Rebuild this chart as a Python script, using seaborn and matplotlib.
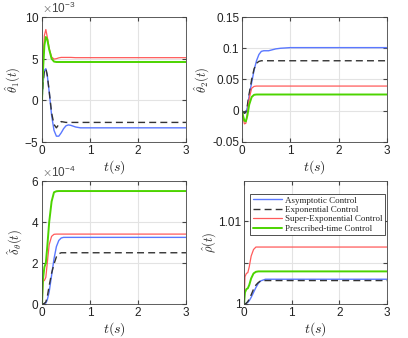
import matplotlib
matplotlib.use("Agg")
import matplotlib.pyplot as plt
import numpy as np
import pandas as pd
import seaborn as sns

# sample times (s)
t = [0, 0.02, 0.05, 0.08, 0.11, 0.15, 0.2, 0.25, 0.3, 0.35, 0.4, 0.45, 0.5, 0.55, 0.6, 0.7, 0.8, 1.0, 1.5, 3.0]

labels = ["Asymptotic Control", "Exponential Control", "Super-Exponential Control", "Prescribed-time Control"]
colors = ["#5a78ff", "#333333", "#ff5a5a", "#4cd400"]

# theta1 hat (x 1e-3)
th1_asy = [0, 2.0, 3.6, 3.8, 3.0, 1.0, -1.8, -3.6, -4.3, -4.3, -3.9, -3.4, -3.05, -2.95, -3.0, -3.2, -3.3, -3.3, -3.3, -3.3]
th1_exp = [0, 2.0, 3.6, 3.8, 3.0, 1.1, -1.5, -2.9, -3.3, -2.9, -2.55, -2.6, -2.65, -2.65, -2.65, -2.65, -2.65, -2.65, -2.65, -2.65]
th1_sup = [0, 4.5, 7.8, 8.5, 7.6, 6.2, 5.2, 4.95, 5.0, 5.1, 5.15, 5.15, 5.15, 5.15, 5.15, 5.12, 5.12, 5.12, 5.12, 5.12]
th1_pre = [0, 3.5, 6.6, 7.6, 7.3, 6.1, 5.0, 4.65, 4.6, 4.6, 4.6, 4.6, 4.6, 4.6, 4.6, 4.6, 4.6, 4.6, 4.6, 4.6]

# theta2 hat
th2_asy = [0, -0.002, -0.004, -0.003, 0.005, 0.025, 0.045, 0.065, 0.08, 0.09, 0.095, 0.096, 0.096, 0.096, 0.097, 0.099, 0.1, 0.101, 0.101, 0.101]
th2_exp = [0, -0.002, -0.004, -0.002, 0.008, 0.028, 0.05, 0.067, 0.076, 0.079, 0.08, 0.08, 0.08, 0.08, 0.08, 0.08, 0.08, 0.08, 0.08, 0.08]
th2_sup = [0, -0.01, -0.021, -0.02, -0.005, 0.02, 0.036, 0.039, 0.0395, 0.0395, 0.0395, 0.0395, 0.0395, 0.0395, 0.0395, 0.0395, 0.0395, 0.0395, 0.0395, 0.0395]
th2_pre = [0, -0.008, -0.016, -0.017, -0.008, 0.01, 0.022, 0.0255, 0.026, 0.026, 0.026, 0.026, 0.026, 0.026, 0.026, 0.026, 0.026, 0.026, 0.026, 0.026]

# delta_theta hat (x 1e-4)
dth_asy = [0, 0, 0.02, 0.05, 0.2, 0.6, 1.4, 2.2, 2.8, 3.1, 3.22, 3.25, 3.25, 3.25, 3.25, 3.25, 3.25, 3.25, 3.25, 3.25]
dth_exp = [0, 0, 0.03, 0.1, 0.35, 0.9, 1.5, 1.95, 2.3, 2.45, 2.5, 2.5, 2.5, 2.5, 2.5, 2.5, 2.5, 2.5, 2.5, 2.5]
dth_sup = [0, 1.1, 1.15, 1.3, 2.0, 2.9, 3.3, 3.4, 3.41, 3.41, 3.41, 3.41, 3.41, 3.41, 3.41, 3.41, 3.41, 3.41, 3.41, 3.41]
dth_pre = [0, 1.2, 1.8, 2.0, 2.8, 4.0, 5.0, 5.45, 5.5, 5.51, 5.51, 5.51, 5.51, 5.51, 5.51, 5.51, 5.51, 5.51, 5.51, 5.51]

# rho hat
rho_asy = [1.0, 1.0, 1.0001, 1.0002, 1.0004, 1.0008, 1.0014, 1.002, 1.0025, 1.0028, 1.0029, 1.003, 1.003, 1.003, 1.003, 1.003, 1.003, 1.003, 1.003, 1.003]
rho_exp = [1.0, 1.0, 1.0001, 1.0003, 1.0006, 1.0011, 1.0018, 1.0023, 1.0026, 1.0028, 1.00284, 1.00284, 1.00284, 1.00284, 1.00284, 1.00284, 1.00284, 1.00284, 1.00284, 1.00284]
rho_sup = [1.0, 1.0033, 1.0037, 1.0038, 1.0045, 1.0058, 1.0066, 1.0069, 1.0069, 1.0069, 1.0069, 1.0069, 1.0069, 1.0069, 1.0069, 1.0069, 1.0069, 1.0069, 1.0069, 1.0069]
rho_pre = [1.0, 1.0014, 1.0018, 1.0019, 1.0023, 1.0031, 1.0037, 1.0039, 1.00395, 1.00395, 1.00395, 1.00395, 1.00395, 1.00395, 1.00395, 1.00395, 1.00395, 1.00395, 1.00395, 1.00395]

sns.set_style("whitegrid", {"axes.edgecolor": "#444444", "grid.color": "#e3e3e3",
                            "xtick.direction": "in", "ytick.direction": "in"})
plt.rcParams["font.family"] = ["Liberation Sans", "DejaVu Sans"]
plt.rcParams["mathtext.fontset"] = "cm"

widths = [1.0, 1.0, 0.9, 1.4]


def panel(ax, series, scale):
    rows = []
    for lab, vals in zip(labels, series):
        for ti, v in zip(t, vals):
            rows.append({"t": ti, "v": v * scale, "ctrl": lab})
    df = pd.DataFrame(rows)
    sns.lineplot(data=df, x="t", y="v", hue="ctrl", style="ctrl", palette=colors,
                 dashes={labels[0]: "", labels[1]: (5, 3), labels[2]: "", labels[3]: ""},
                 sort=False, linewidth=1.0, ax=ax, legend=True)
    for ln, lw in zip(ax.lines, widths):
        ln.set_linewidth(lw)
    ax.set_xlim(0, 3)
    ax.set_xticks([0, 1, 2, 3])
    ax.set_xlabel("$t(s)$", fontsize=10, labelpad=1)
    ax.tick_params(labelsize=8.5, length=3, color="#444444", labelcolor="#222222", pad=2,
                   top=True, right=True, left=True, bottom=True)
    for s in ax.spines.values():
        s.set_linewidth(0.6)
    return ax


fig, axes = plt.subplots(2, 2, figsize=(4.08, 3.38), dpi=100)
ax1, ax2, ax3, ax4 = axes.ravel()

panel(ax1, [th1_asy, th1_exp, th1_sup, th1_pre], 1e-3)
ax1.set_ylim(-5e-3, 10e-3)
ax1.set_yticks([-5e-3, 0, 5e-3, 10e-3])
ax1.ticklabel_format(axis="y", style="sci", scilimits=(-3, -3), useMathText=True)
ax1.set_ylabel(r"$\hat{\theta}_1(t)$", fontsize=9, labelpad=1)

panel(ax2, [th2_asy, th2_exp, th2_sup, th2_pre], 1.0)
ax2.set_ylim(-0.05, 0.15)
ax2.set_yticks([-0.05, 0, 0.05, 0.1, 0.15])
ax2.set_yticklabels(["-0.05", "0", "0.05", "0.1", "0.15"])
ax2.set_ylabel(r"$\hat{\theta}_2(t)$", fontsize=9, labelpad=0)

panel(ax3, [dth_asy, dth_exp, dth_sup, dth_pre], 1e-4)
ax3.set_ylim(0, 6e-4)
ax3.set_yticks([0, 2e-4, 4e-4, 6e-4])
ax3.ticklabel_format(axis="y", style="sci", scilimits=(-4, -4), useMathText=True)
ax3.set_ylabel(r"$\hat{\delta}_\theta(t)$", fontsize=9, labelpad=4)

panel(ax4, [rho_asy, rho_exp, rho_sup, rho_pre], 1.0)
ax4.set_ylim(1.0, 1.0149)
ax4.set_yticks([1.0, 1.005, 1.01])
ax4.set_yticklabels(["1", "", "1.01"])
ax4.set_ylabel(r"$\hat{\rho}(t)$", fontsize=9, labelpad=0)

for ax in (ax1, ax3):
    ax.yaxis.get_offset_text().set_fontsize(8.5)
    ax.yaxis.get_offset_text().set_color("#444444")

for ax in (ax1, ax2, ax3):
    ax.get_legend().remove()
leg = ax4.legend(loc="upper left", bbox_to_anchor=(0.01, 0.935),
                 prop={"family": ["Liberation Serif"], "size": 6.5},
                 frameon=True, fancybox=False, framealpha=1, edgecolor="#333333",
                 handlelength=3.2, handletextpad=0.4, labelspacing=0.12, borderpad=0.3)
leg.get_frame().set_linewidth(0.6)
for h, lw in zip(leg.get_lines(), widths):
    h.set_linewidth(lw)

ax1.set_position([42 / 408, 1 - 142 / 338, 144 / 408, 125 / 338])
ax2.set_position([242 / 408, 1 - 142 / 338, 145 / 408, 125 / 338])
ax3.set_position([42 / 408, 1 - 304 / 338, 144 / 408, 123 / 338])
ax4.set_position([244 / 408, 1 - 304 / 338, 143 / 408, 123 / 338])

fig.savefig("out.png", dpi=100)
